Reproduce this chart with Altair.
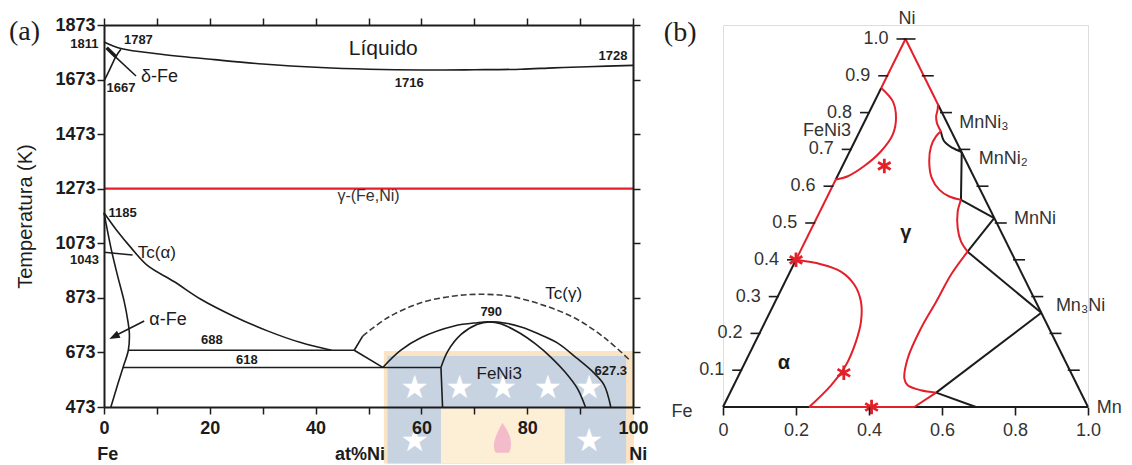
import altair as alt
import pandas as pd

INK = "#1c1c1c"
RED = "#e3202a"
SANS = "Liberation Sans"
SERIF = "Liberation Serif"

# ---------------- Panel (a): Fe-Ni diagram (x = at% Ni, y = T in K) ----------------
liq_x = [0, 3.2, 10.8, 20.9, 30, 41, 50, 60, 70, 78.8, 85, 91.4, 100]
liq_T = [1811, 1787, 1766, 1746, 1730, 1717, 1711, 1708, 1709, 1711, 1716, 1720, 1725]
delta_x = [0, 1.2, 2.3, 3.2]
delta_T = [1667, 1715, 1759, 1784]
pointer_x = [0.8, 6.05]
pointer_T = [1781, 1686]
blob_x = [0.5, 2.3]
blob_T = [1790, 1756]
gam_x = [0, 2.5, 5.1, 8.2, 13.3, 18.3, 24.6, 30.9, 37.2, 43]
gam_T = [1185, 1118, 1057, 992, 932, 868, 805, 752, 709, 681]
alf_x = [0, 1.3, 2.5, 3.8, 4.5, 4.8, 4.6, 3.6, 2.6, 1.3]
alf_T = [1185, 1057, 959, 861, 790, 740, 681, 618, 556, 473]
tca_x = [0, 5.4]
tca_T = [1040, 1030]
l688_x = [4.6, 47.3]
l688_T = [681, 681]
l618_x = [3.6, 63.7]
l618_T = [618, 618]
s1_x = [47.3, 48.9]
s1_T = [681, 733]
s2_x = [47.3, 52.7]
s2_T = [681, 618]
outer_x = [52.7, 56, 59.9, 66.2, 70.6, 72.8, 76, 79, 82, 85.7, 89.5, 92.5, 94.5, 95.8]
outer_T = [618, 680, 727, 770, 782, 785, 780, 765, 742, 708, 650, 600, 555, 473]
inner_x = [63.7, 65, 67.5, 70.6, 72.8, 75, 78.5, 81.5, 84.5, 87.2, 89.5, 91]
inner_T = [618, 678, 739, 776, 785, 778, 745, 705, 655, 600, 540, 473]
vert_x = [63.7, 64.0]
vert_T = [618, 473]
arrow_x = [7.6, 2.3]
arrow_T = [788, 736]
head_x = [1.9]
head_T = [731]
tcg_x = [48.9, 53.6, 59.9, 66.2, 70.6, 76.3, 82.6, 88.9, 94.6, 99.6]
tcg_T = [733, 800, 855, 880, 886, 880, 849, 800, 727, 641]
red_x = [0, 100]
red_T = [1273, 1273]

num_txt = ["1811", "1787", "1667", "1716", "1728", "1185", "1043", "688", "618", "790", "627.3"]
num_x = [-3.7, 6.5, 3.2, 57.7, 96.2, 3.5, -3.7, 20.4, 27, 73.2, 95.8]
num_T = [1802, 1817, 1641, 1662, 1759, 1185, 1011, 717, 644, 821, 605]

lab18_txt = ["δ-Fe", "α-Fe"]
lab18_x = [10.5, 12.1]
lab18_T = [1682, 792]
lab17_txt = ["Tc(α)", "Tc(γ)", "FeNi3"]
lab17_x = [10.0, 86.9, 74.7]
lab17_T = [1038, 888, 593]
liq_txt = ["Líquido"]
liq_lx = [52.8]
liq_lT = [1784]
gfn_txt = ["γ-(Fe,Ni)"]
gfn_x = [50.0]
gfn_T = [1246]
foot_txt = ["Fe", "at%Ni", "Ni"]
foot_x = [0.7, 48.4, 101]
foot_T = [298, 298, 298]
tag_a = ["(a)"]
tag_a_x = [-17.96]
tag_a_T = [1849]

ticks_T = [473, 673, 873, 1073, 1273, 1473, 1673, 1873]
ticks_x = list(range(0, 101, 10))

# watermark (logo) in data units of panel (a)
wm_outer = dict(x=[52.9], x2=[100.2], y=[678], y2=[266])
wm_blue = dict(x=[53.6], x2=[98.7], y=[660], y2=[266])
wm_core = dict(x=[63.7], x2=[87.1], y=[470], y2=[266])
star_x = [58.7, 67.2, 75.4, 83.9, 91.7, 58.7, 91.7]
star_T = [544, 544, 544, 544, 544, 348, 348]
flame_x = [75.3]
flame_T = [360]

# ---------------- Panel (b): ternary Fe-Mn-Ni (x along base, y = Ni fraction) ----------------
blk_segments = [
    ([0, 0.2], [0, 0.4]),
    ([0.309, 0.4335], [0.618, 0.867]),
    ([0.589, 1.0], [0.822, 0]),
    ([0, 0.236], [0, 0]),
    ([0.524, 1.0], [0, 0]),
    ([0.597, 0.606, 0.629, 0.654], [0.749, 0.722, 0.704, 0.693]),
    ([0.654, 0.652], [0.693, 0.563]),
    ([0.652, 0.743], [0.563, 0.513]),
    ([0.743, 0.670], [0.513, 0.422]),
    ([0.670, 0.872], [0.422, 0.256]),
    ([0.872, 0.584], [0.256, 0.039]),
    ([0.584, 0.693], [0.039, 0]),
]
red_segments = [
    ([0.2, 0.309], [0.4, 0.618]),
    ([0.4335, 0.5], [0.867, 1.0]),
    ([0.5, 0.589], [1.0, 0.822]),
    ([0.236, 0.524], [0, 0]),
    ([0.4335, 0.465, 0.474, 0.465, 0.433, 0.386, 0.342, 0.309],
     [0.867, 0.831, 0.786, 0.740, 0.695, 0.654, 0.627, 0.618]),
    ([0.2, 0.268, 0.323, 0.360, 0.378, 0.378, 0.364, 0.337, 0.296, 0.236],
     [0.4, 0.388, 0.368, 0.332, 0.286, 0.232, 0.177, 0.114, 0.059, 0]),
    ([0.524, 0.584], [0, 0.039]),
    ([0.584, 0.542, 0.506, 0.497, 0.506, 0.542, 0.584, 0.625, 0.670],
     [0.039, 0.0455, 0.059, 0.077, 0.132, 0.213, 0.286, 0.360, 0.422]),
    ([0.670, 0.652, 0.643, 0.643, 0.652], [0.422, 0.450, 0.486, 0.531, 0.563]),
    ([0.652, 0.620, 0.593, 0.572, 0.565, 0.570, 0.584, 0.597],
     [0.563, 0.572, 0.590, 0.622, 0.668, 0.708, 0.736, 0.749]),
    ([0.597, 0.586, 0.584, 0.588, 0.589], [0.749, 0.772, 0.790, 0.808, 0.822]),
]
star_b_x = [0.442, 0.2, 0.331, 0.407]
star_b_ni = [0.655, 0.4, 0.093, 0.0]
edge_ticks = [0.1, 0.2, 0.3, 0.4, 0.5, 0.6, 0.7, 0.8, 0.9, 1.0]
edge_labels = ["0.1", "0.2", "0.3", "0.4", "0.5", "0.6", "0.7", "0.8", "0.9", "1.0"]
base_ticks = [0, 0.2, 0.4, 0.6, 0.8, 1.0]

cmp_txt = ["FeNi3"]
cmp_x = [0.285]
cmp_ni = [0.750]
cmpL_txt = ["MnNi₃", "MnNi₂", "MnNi", "Mn₃Ni"]
cmpL_x = [0.647, 0.701, 0.797, 0.912]
cmpL_ni = [0.772, 0.674, 0.511, 0.274]
corner_txt = ["Ni", "Fe", "Mn"]
corner_x = [0.504, -0.112, 1.058]
corner_ni = [1.054, -0.014, -0.003]
phase_txt = ["γ", "α"]
phase_x = [0.501, 0.167]
phase_ni = [0.473, 0.120]
tag_b = ["(b)"]
tag_b_x = [-0.162]
tag_b_ni = [1.016]

# ---------------- helpers ----------------
XA = alt.Scale(domain=[0, 100], nice=False, zero=False)
YA = alt.Scale(domain=[473, 1873], nice=False, zero=False)
XB = alt.Scale(domain=[0, 1], nice=False, zero=False)
YB = alt.Scale(domain=[0, 1.038], nice=False, zero=False)


def seg_df(segs):
    rows = []
    for sid, (xs, ys) in enumerate(segs):
        for k, (x, y) in enumerate(zip(xs, ys)):
            rows.append({"seg": sid, "ord": k, "x": x, "y": y})
    return pd.DataFrame(rows)


def pts(xs, ys, txt=None):
    d = {"x": xs, "y": ys}
    if txt is not None:
        d["t"] = txt
    return pd.DataFrame(d)


def enc(xs, ys, axx=None, axy=None):
    return dict(x=alt.X("x:Q", scale=xs, axis=axx), y=alt.Y("y:Q", scale=ys, axis=axy))


def lines(df, xs, ys, **mk):
    return alt.Chart(df).mark_line(interpolate="catmull-rom", **mk).encode(
        detail="seg:N", order="ord:Q", **enc(xs, ys))


def texts(df, xs, ys, size, weight="normal", font=SANS, align="center", color=INK):
    return alt.Chart(df).mark_text(fontSize=size, fontWeight=weight, font=font, align=align,
                                   baseline="middle", color=color).encode(text="t:N", **enc(xs, ys))


def rect(d, color):
    return alt.Chart(pd.DataFrame(d)).mark_rect(color=color).encode(
        x=alt.X("x:Q", scale=XA, axis=None), x2="x2:Q",
        y=alt.Y("y:Q", scale=YA, axis=None), y2="y2:Q")


# ---------------- panel (a) layers ----------------
black_a = seg_df([
    (liq_x, liq_T), (delta_x, delta_T), (pointer_x, pointer_T), (gam_x, gam_T),
    (alf_x, alf_T), (tca_x, tca_T), (l688_x, l688_T), (l618_x, l618_T),
    (s1_x, s1_T), (s2_x, s2_T), (outer_x, outer_T), (inner_x, inner_T),
    (vert_x, vert_T), (arrow_x, arrow_T),
])

wm_layers = [
    rect(wm_outer, "#fbe4c4"),
    rect(wm_blue, "#c8d3e2"),
    rect(wm_core, "#fcefd6"),
    texts(pts(star_x, star_T, ["★"] * len(star_x)), XA, YA, 32, font="DejaVu Sans", color="white"),
    alt.Chart(pts(flame_x, flame_T)).mark_point(
        shape="M0,-1C0.5,-0.3,0.75,0.3,0.45,1L-0.45,1C-0.75,0.4,-0.4,-0.2,0,-1Z",
        filled=True, color="#f4bccb", opacity=1, size=900).encode(**enc(XA, YA)),
]

ax_bottom = alt.Axis(values=ticks_x, labelExpr="datum.value % 20 == 0 ? datum.label : ''",
                     tickSize=7, tickWidth=1.5, tickColor=INK, domainColor=INK, domainWidth=2,
                     labelFont=SANS, labelFontWeight="bold", labelFontSize=18, labelColor=INK,
                     labelPadding=5, grid=False, title=None, zindex=1, labelOverlap=False,
                     labelFlush=False)
ax_left = alt.Axis(values=ticks_T, format="d", tickSize=7, tickWidth=1.5, tickColor=INK,
                   domainColor=INK, domainWidth=2, labelFont=SANS, labelFontWeight="bold",
                   labelFontSize=18, labelColor=INK, labelPadding=2, grid=False,
                   title="Temperatura (K)", titleFont=SANS, titleFontSize=20,
                   titleFontWeight="normal", titleColor=INK, titleX=-73, titleY=191,
                   titleAngle=-90, titleBaseline="alphabetic", titleAlign="center", zindex=1,
                   labelOverlap=False, labelFlush=False)
ax_top = alt.Axis(orient="top", values=ticks_x, labels=False, tickSize=7, tickWidth=1.5,
                  tickColor=INK, domainColor=INK, domainWidth=2, grid=False, title=None, zindex=1)
ax_right = alt.Axis(orient="right", values=ticks_T, labels=False, tickSize=7, tickWidth=1.5,
                    tickColor=INK, domainColor=INK, domainWidth=2, grid=False, title=None, zindex=1)

red_df = pts(red_x, red_T)
layers_a = wm_layers + [
    alt.Chart(red_df).mark_line(color=RED, strokeWidth=2.2).encode(**enc(XA, YA, ax_bottom, ax_left)),
    alt.Chart(red_df).mark_line(opacity=0).encode(**enc(XA, YA, ax_top, ax_right)),
    lines(black_a, XA, YA, color=INK, strokeWidth=1.6),
    lines(seg_df([(blob_x, blob_T)]), XA, YA, color=INK, strokeWidth=3.5),
    lines(seg_df([(tcg_x, tcg_T)]), XA, YA, color="#3a3a3a", strokeWidth=1.6, strokeDash=[6, 3]),
    alt.Chart(pts(head_x, head_T)).mark_point(shape="M0,-1L0.75,1L-0.75,1Z", filled=True, color=INK,
                                              opacity=1, size=110, angle=243).encode(**enc(XA, YA)),
    texts(pts(num_x, num_T, num_txt), XA, YA, 13, weight="bold"),
    texts(pts(lab18_x, lab18_T, lab18_txt), XA, YA, 18),
    texts(pts(lab17_x, lab17_T, lab17_txt), XA, YA, 17),
    texts(pts(liq_lx, liq_lT, liq_txt), XA, YA, 21),
    texts(pts(gfn_x, gfn_T, gfn_txt), XA, YA, 16, color="#333333"),
    texts(pts(foot_x, foot_T, foot_txt), XA, YA, 18, weight="bold"),
    texts(pts(tag_a_x, tag_a_T, tag_a), XA, YA, 28, font=SERIF, align="left"),
]
chart_a = alt.layer(*layers_a).resolve_axis(x="independent", y="independent").properties(
    width=529, height=382)

# ---------------- panel (b) layers ----------------
ax_base = alt.Axis(values=base_ticks,
                   labelExpr="datum.value == 0 ? '0' : format(datum.value, '.1f')",
                   domain=False, tickSize=8, tickWidth=1.6, tickColor=INK, labelFont=SANS,
                   labelFontSize=18, labelColor="#333333", labelPadding=6, grid=False, title=None,
                   zindex=1, labelOverlap=False, labelFlush=False)

tick_df = pd.DataFrame({"ni": edge_ticks, "t": edge_labels})
left_ticks = alt.Chart(tick_df).transform_calculate(x="datum.ni / 2").mark_point(
    shape="M-1,0L0.11,0", size=324, filled=False, color=INK, strokeWidth=1.6, opacity=1).encode(
    x=alt.X("x:Q", scale=XB, axis=None), y=alt.Y("ni:Q", scale=YB, axis=None))
right_ticks = alt.Chart(tick_df).transform_calculate(x="1 - datum.ni / 2").mark_point(
    shape="M-0.2,0L1,0", size=400, filled=False, color=INK, strokeWidth=1.6, opacity=1).encode(
    x=alt.X("x:Q", scale=XB, axis=None), y=alt.Y("ni:Q", scale=YB, axis=None))
left_labels = alt.Chart(tick_df).transform_calculate(x="datum.ni / 2").mark_text(
    fontSize=18, font=SANS, align="right", baseline="middle", color="#333333", dx=-17).encode(
    x=alt.X("x:Q", scale=XB, axis=None), y=alt.Y("ni:Q", scale=YB, axis=None), text="t:N")

base_df = pts([0, 1], [0, 0])
layers_b = [
    alt.Chart(base_df).mark_line(opacity=0).encode(**enc(XB, YB, ax_base, None)),
    lines(seg_df(blk_segments), XB, YB, color=INK, strokeWidth=2),
    lines(seg_df(red_segments), XB, YB, color=RED, strokeWidth=2),
    left_ticks, right_ticks, left_labels,
    alt.Chart(pts(star_b_x, star_b_ni)).mark_point(
        shape="M0,-1L0,1M-0.87,-0.5L0.87,0.5M-0.87,0.5L0.87,-0.5", size=210, filled=False,
        color=RED, strokeWidth=2.8, opacity=1).encode(**enc(XB, YB)),
    texts(pts(cmp_x, cmp_ni, cmp_txt), XB, YB, 18, color="#333333"),
    texts(pts(cmpL_x, cmpL_ni, cmpL_txt), XB, YB, 18, align="left", color="#333333"),
    texts(pts(corner_x, corner_ni, corner_txt), XB, YB, 18, color="#333333"),
    texts(pts(phase_x, phase_ni, phase_txt), XB, YB, 20, weight="bold"),
    texts(pts(tag_b_x, tag_b_ni, tag_b), XB, YB, 28, font=SERIF, align="left"),
]
chart_b = alt.layer(*layers_b).resolve_axis(x="independent", y="independent").properties(
    width=365, height=382)

chart = alt.hconcat(chart_a, chart_b, spacing=90, bounds="flush").properties(
    padding={"left": 0, "top": 1, "right": 0, "bottom": 0}
).configure_view(stroke=None).configure(background="white")

chart.save("out.html", embed_options={"renderer": "svg", "actions": False})
